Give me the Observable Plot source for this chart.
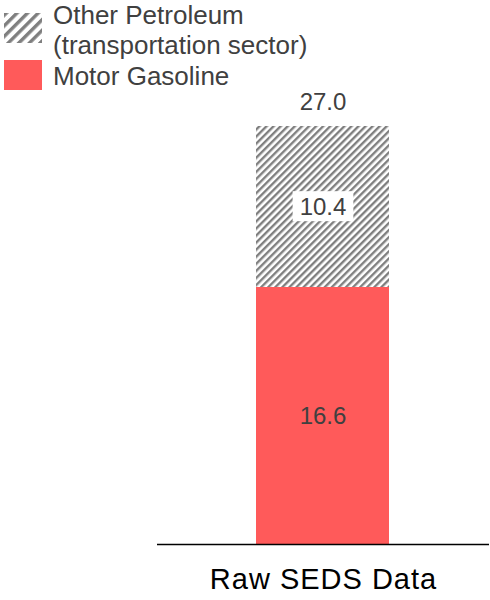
<!DOCTYPE html>
<html>
<head>
<meta charset="utf-8">
<script src="https://cdn.jsdelivr.net/npm/d3@7"></script>
<script src="https://cdn.jsdelivr.net/npm/@observablehq/plot@0.6"></script>
<style>
  body { margin: 0; background: #fff; font-family: "Liberation Sans", Arial, sans-serif; }
  #legend { position: relative; width: 490px; height: 80px; overflow: visible; z-index: 1; }
  #legend .swatch { position: absolute; left: 4px; width: 38px; height: 30px; }
  #legend .label { position: absolute; left: 53px; font-size: 26px; line-height: 30px; color: #404040; white-space: nowrap; }
  #chart svg { display: block; }
</style>
</head>
<body>
<div id="legend"></div>
<div id="chart"></div>
<script>
// Transportation-sector petroleum consumption, stacked by product
const categories = ["Raw SEDS Data"];
const seriesNames = ["Motor Gasoline", "Other Petroleum"];
const motorGasoline = [16.6];
const otherPetroleum = [10.4];
const totals = [27.0];
const seriesColors = ["#ff5a5a", "url(#hatch)"];
const legendItems = [
  { series: "Other Petroleum", lines: ["Other Petroleum", "(transportation sector)"] },
  { series: "Motor Gasoline", lines: ["Motor Gasoline"] }
];

// Long-format rows for the stacked bar (bottom segment first)
const rows = categories.flatMap((c, i) => [
  { source: c, series: seriesNames[0], value: motorGasoline[i] },
  { source: c, series: seriesNames[1], value: otherPetroleum[i] }
]);
const totalRows = categories.map((c, i) => ({ source: c, total: totals[i] }));

const NS = "http://www.w3.org/2000/svg";
function hatchPattern(id, size, stripe) {
  return `<pattern id="${id}" patternUnits="userSpaceOnUse" width="${size}" height="${size}" patternTransform="rotate(45)">
    <rect width="${size}" height="${size}" fill="#ffffff"/>
    <rect x="0" y="0" width="${stripe}" height="${size}" fill="#7f7f7f"/>
  </pattern>`;
}

// Legend
const legend = document.getElementById("legend");
const swatchTops = { "Other Petroleum": 13, "Motor Gasoline": 60 };
const labelTops = { "Other Petroleum": 0, "Motor Gasoline": 61 };
legendItems.forEach(item => {
  const fill = seriesColors[seriesNames.indexOf(item.series)];
  const sw = document.createElementNS(NS, "svg");
  sw.setAttribute("class", "swatch");
  sw.setAttribute("width", 38);
  sw.setAttribute("height", 30);
  sw.style.top = swatchTops[item.series] + "px";
  const legendFill = fill.startsWith("url(") ? "url(#hatch-legend)" : fill;
  sw.innerHTML = `<defs>${hatchPattern("hatch-legend", 7.5, 3.4)}</defs><rect width="38" height="30" fill="${legendFill}"/>`;
  legend.appendChild(sw);
  item.lines.forEach((line, j) => {
    const d = document.createElement("div");
    d.className = "label";
    d.style.top = (labelTops[item.series] + j * 30) + "px";
    d.textContent = line;
    legend.appendChild(d);
  });
});

// Pattern definition for the hatched segment
const defs = () => {
  const el = document.createElementNS(NS, "defs");
  el.innerHTML = hatchPattern("hatch", 5, 2.4);
  return el;
};

const chart = Plot.plot({
  width: 490,
  height: 520,
  marginLeft: 157,
  marginRight: 1,
  marginTop: 46,
  marginBottom: 56,
  style: { fontFamily: "\"Liberation Sans\", Arial, sans-serif", background: "#ffffff" },
  x: { domain: categories, padding: 0.425, axis: null },
  y: { domain: [0, d3.max(totals)], axis: null },
  color: { domain: seriesNames, range: seriesColors },
  marks: [
    defs,
    Plot.barY(rows, { x: "source", y: "value", fill: "series" }),
    Plot.ruleY([0], { stroke: "#000000", strokeWidth: 1.6 }),
    Plot.text(rows, Plot.stackY({
      x: "source", y: "value", text: d => d.value.toFixed(1),
      fontSize: 24, fill: "#404040", ariaDescription: "segment labels"
    })),
    Plot.text(totalRows, {
      x: "source", y: "total", text: d => d.total.toFixed(1),
      dy: -24, fontSize: 24, fill: "#404040"
    }),
    Plot.text(categories, {
      x: d => d, text: d => d, frameAnchor: "bottom",
      dy: 44, fontSize: 29, fill: "#000000", ariaDescription: "category labels"
    })
  ]
});
document.getElementById("chart").appendChild(chart);

// Slightly wider tracking on the category label
chart.querySelectorAll('g[aria-description="category labels"] text').forEach(t => {
  t.style.letterSpacing = "1px";
  t.setAttribute("dx", 0.5);
});

// White box behind labels that sit on the hatched segment
const labelGroup = chart.querySelector('g[aria-description="segment labels"]');
if (labelGroup) {
  const texts = labelGroup.querySelectorAll("text");
  rows.forEach((r, i) => {
    if (r.series !== seriesNames[1] || !texts[i]) return;
    const t = texts[i];
    const b = t.getBBox();
    const cy = b.y + b.height / 2;
    const rect = document.createElementNS(NS, "rect");
    rect.setAttribute("x", b.x - 7);
    rect.setAttribute("y", cy - 15);
    rect.setAttribute("width", b.width + 14);
    rect.setAttribute("height", 30);
    rect.setAttribute("fill", "#ffffff");
    const tr = t.getAttribute("transform");
    if (tr) rect.setAttribute("transform", tr);
    labelGroup.insertBefore(rect, t);
  });
}
</script>
</body>
</html>
